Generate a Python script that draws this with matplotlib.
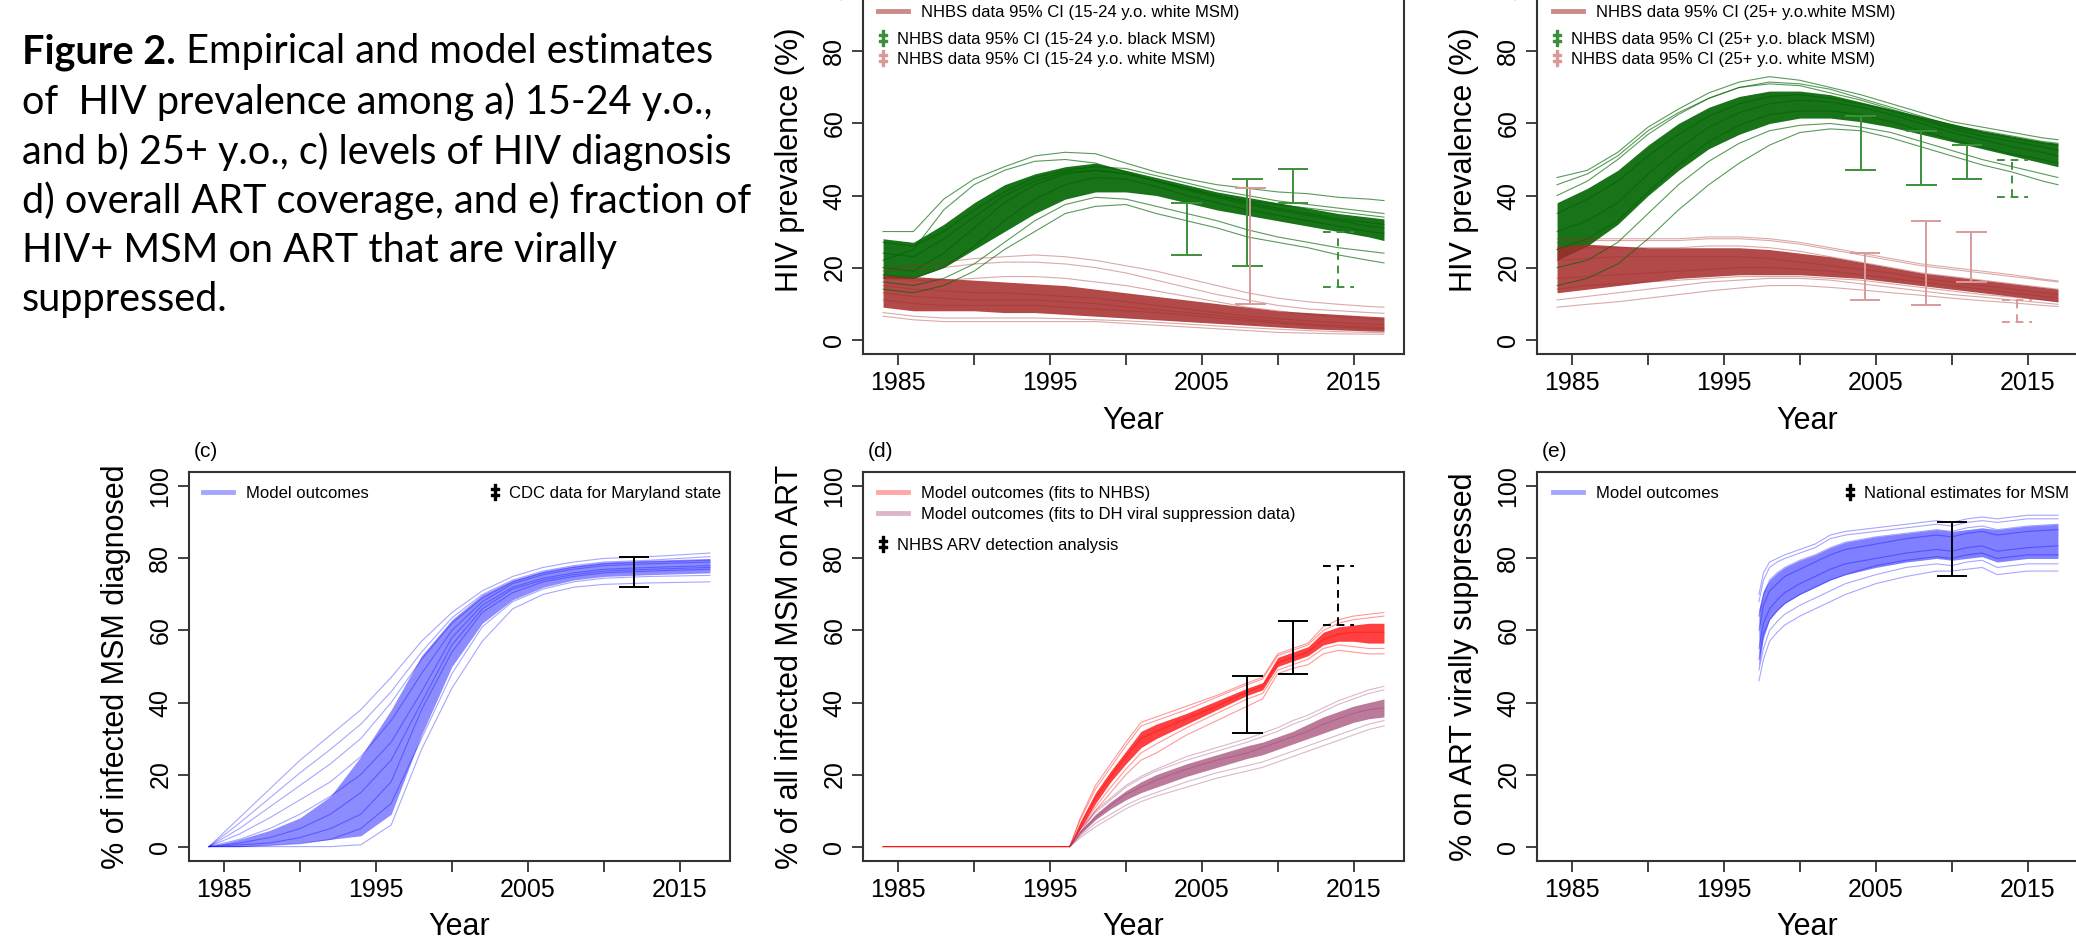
import matplotlib.pyplot as plt
from matplotlib.lines import Line2D
from matplotlib.legend import Legend

plt.rcParams['font.family'] = ['Liberation Sans', 'DejaVu Sans']

# ---------------- data ----------------
yrs_ab = [1984, 1986, 1988, 1990, 1992, 1994, 1996, 1998, 2000, 2002,
          2004, 2006, 2008, 2010, 2012, 2014, 2016, 2017]

# (a) 15-24 y.o. black MSM (green)
a_blk_hi = [30, 30, 39, 44.6, 48, 51, 52, 51.6, 49, 46.5, 44.6, 43, 42, 41, 40.5, 39.5, 39, 38.6]
a_blk_lo = [14, 13, 15, 19, 25, 30, 35, 37, 37.5, 35, 33, 31, 28.5, 27, 25.5, 23.5, 22, 21.3]
a_blk_core_lo = [17, 17, 20, 25, 30, 35, 39, 41, 41, 40, 38, 36, 34.5, 33, 31.5, 30, 28.5, 27.5]
a_blk_core_hi = [28, 27, 32, 38, 43, 46, 48, 49, 47, 45, 43, 41, 39.5, 38, 36.5, 35, 34, 33.5]
a_blk_runs = [
    [22, 25, 36, 43, 47, 49.5, 50, 49, 46.5, 44, 42, 40, 38.5, 37.5, 36.5, 35.5, 34.5, 34],
    [20, 19, 24, 31, 38, 43, 46, 47, 46, 44, 41.5, 39.5, 37.5, 36, 34.5, 33, 31.5, 31],
    [16, 15, 17, 21, 27, 33, 37.5, 39.5, 39, 37, 35, 33, 30.5, 28.5, 27, 25.5, 24.5, 24],
    [27, 26, 30, 36, 41, 45, 47, 48, 47.5, 45.5, 43.5, 41.5, 40, 38.5, 37.5, 36.5, 35.5, 35],
    [24, 23, 28, 34, 40, 44, 46.5, 47, 46, 44, 42, 40, 38, 36.5, 35, 33.5, 32.5, 32],
    [18, 17, 20, 26, 33, 39, 43, 45, 44.5, 42.5, 40, 38, 36, 34.5, 33, 31.5, 30, 29.5],
]
# (a) 15-24 y.o. white MSM (brown)
a_wht_hi = [20, 20.5, 21.5, 22.5, 23, 23.5, 23, 22, 20.5, 19, 17, 15, 13, 11.5, 10.5, 9.8, 9.2, 9]
a_wht_lo = [6.5, 5.5, 5, 5, 5, 5, 5, 5, 4.5, 4, 3.5, 3, 2.5, 2, 1.8, 1.6, 1.5, 1.5]
a_wht_core_lo = [9, 8, 8, 8, 7.5, 7.5, 7, 6.5, 6, 5.5, 5, 4.5, 4, 3.5, 3, 2.7, 2.4, 2.3]
a_wht_core_hi = [18, 17.5, 17, 16.5, 16, 15.5, 15, 14, 13, 12, 11, 10, 9, 8, 7.5, 7, 6.5, 6.3]
a_wht_runs = [
    [19, 19.5, 20, 21, 21.5, 21.5, 21, 20, 18.5, 16.5, 14.5, 12.5, 11, 9.5, 8.5, 8, 7.5, 7.3],
    [15, 14, 13.5, 13, 13, 12.5, 12, 11.5, 10.5, 9.5, 8.5, 7.5, 6.5, 5.8, 5.2, 4.7, 4.3, 4.1],
    [11, 10, 9.5, 9.5, 9.5, 9.5, 9, 8.5, 8, 7.5, 6.8, 6, 5.3, 4.6, 4, 3.5, 3.1, 3],
    [7.5, 6.5, 6, 6, 6, 6, 5.8, 5.5, 5.2, 4.8, 4.3, 3.8, 3.3, 2.9, 2.5, 2.2, 2, 1.9],
    [17, 16.5, 16.5, 17, 17.5, 17.5, 17, 16, 15, 13.5, 12, 10.5, 9, 8, 7, 6.3, 5.8, 5.5],
    [13, 12, 11.5, 11, 11, 11, 10.5, 10, 9, 8.3, 7.5, 6.7, 5.8, 5, 4.4, 3.9, 3.5, 3.3],
]
a_blk_bar_x = [2004, 2008, 2011]
a_blk_bar_lo = [23.5, 20.5, 38]
a_blk_bar_hi = [38, 44.5, 47.5]
a_blk_dash_x, a_blk_dash_lo, a_blk_dash_hi = [2014], [14.5], [30]
a_wht_bar_x, a_wht_bar_lo, a_wht_bar_hi = [2008.2], [10], [42]

# (b) 25+ y.o. black MSM (green)
b_blk_hi = [45, 47, 52, 59, 64, 68.5, 71.5, 73, 72, 70, 68, 65.5, 63, 60.5, 59, 57.5, 56, 55.5]
b_blk_lo = [15, 17, 21, 28, 36, 43, 49, 54, 57.5, 58.5, 58, 56, 53.5, 51, 48.5, 46.5, 44, 43]
b_blk_core_lo = [22, 26, 32, 40, 47, 53, 57, 60, 61.5, 61.5, 60.5, 59, 57, 55, 53, 51, 49, 48]
b_blk_core_hi = [38, 42, 47, 54, 60, 64.5, 67.5, 69, 69, 68, 66, 64, 62, 60, 58, 56.5, 55, 54.5]
b_blk_runs = [
    [40, 44, 50, 57, 62.5, 67, 70, 71.5, 71, 69.5, 67, 64.5, 62, 59.5, 58, 56.5, 55, 54.5],
    [30, 33, 38, 46, 53, 59, 63, 65.5, 66.5, 66, 64.5, 62.5, 60, 57.5, 55.5, 53.5, 52, 51],
    [20, 22, 27, 35, 43, 49.5, 54.5, 58, 59.5, 60, 59, 57.5, 55, 52.5, 50, 48, 46, 45],
    [35, 39, 44, 51, 57, 62, 65.5, 67.5, 68, 67, 65.5, 63.5, 61, 58.5, 56.5, 55, 53.5, 52.5],
    [25, 28, 33, 41, 48.5, 55, 59.5, 62.5, 63.5, 63.5, 62.5, 60.5, 58, 55.5, 53.5, 51.5, 50, 49],
    [43, 46, 51, 58, 63, 67, 70, 71, 70.5, 68.5, 66.5, 64, 61.5, 59, 57.5, 56, 54.5, 54],
]
# (b) 25+ y.o. white MSM (brown)
b_wht_hi = [28, 28, 28, 28, 28, 28.5, 28.5, 28, 27, 25.5, 24, 22.5, 21, 20, 19, 18, 16.8, 16.3]
b_wht_lo = [9, 9.8, 10.5, 11.5, 12.5, 13.5, 14.3, 15, 15, 14.5, 13.8, 13, 12.3, 11.5, 10.8, 10.2, 9.5, 9.2]
b_wht_core_lo = [13, 14, 15, 16, 17, 17.5, 18, 18, 18, 17.5, 17, 16, 15, 14, 13, 12, 11, 10.5]
b_wht_core_hi = [26, 26.5, 26, 25.5, 25.5, 25.5, 25.5, 25, 24, 23, 21.5, 20, 18.5, 17.5, 16.5, 15.5, 14.5, 14]
b_wht_runs = [
    [27, 27.5, 27.5, 27.5, 27.5, 28, 28, 27.5, 26.5, 25, 23.5, 22, 20.5, 19.5, 18.5, 17.5, 16.5, 16],
    [22, 22.5, 23, 23, 23, 23, 23, 22.5, 21.5, 20.5, 19.5, 18.5, 17, 16, 15, 14, 13, 12.5],
    [17, 17.5, 18, 18.5, 19, 19.5, 20, 20, 19.5, 19, 18, 17, 16, 15, 14, 13, 12, 11.5],
    [11, 12, 13, 14, 15, 16, 16.5, 17, 17, 16.5, 15.5, 14.5, 13.5, 12.5, 11.8, 11, 10.2, 9.8],
    [25, 25.5, 25.5, 25.5, 25.5, 26, 26, 25.5, 24.5, 23, 21.5, 20, 18.5, 17.5, 16.5, 15.5, 14.5, 14],
    [14, 15, 15.5, 16, 16.5, 17, 17.5, 17.5, 17.5, 17, 16.5, 15.5, 14.5, 13.5, 12.5, 11.8, 11, 10.5],
]
b_blk_bar_x = [2004, 2008, 2011]
b_blk_bar_lo = [47, 43, 44.5]
b_blk_bar_hi = [62, 58, 54]
b_blk_dash_x, b_blk_dash_lo, b_blk_dash_hi = [2014], [39.5], [50]
b_wht_bar_x = [2004.3, 2008.3, 2011.3]
b_wht_bar_lo = [11, 9.5, 16]
b_wht_bar_hi = [24, 33, 30]
b_wht_dash_x, b_wht_dash_lo, b_wht_dash_hi = [2014.3], [5], [11]

# (c) % diagnosed
yrs_c = [1984, 1986, 1988, 1990, 1992, 1994, 1996, 1998, 2000, 2002, 2004, 2006, 2008, 2010, 2013, 2017]
c_hi = [0, 8, 16, 24, 31, 38, 47, 57, 65, 71, 75, 77.5, 79, 80, 80.5, 81.5]
c_lo = [0, 0, 0, 0, 0, 0.5, 6, 27, 44, 57, 66, 70, 72, 72.8, 73.2, 73.5]
c_core_lo = [0, 0, 0.5, 1, 2, 3, 9, 31, 50, 62, 68.5, 72, 74, 75, 75.5, 76]
c_core_hi = [0, 2, 4.5, 8, 14, 25, 38, 53, 63, 70, 74, 76.5, 78, 79, 79.5, 80]
c_runs = [
    [0, 5, 11, 17, 23, 30, 40, 52, 62, 69, 73.5, 76, 77.5, 78.5, 79, 79.5],
    [0, 2, 5, 9, 14, 20, 29, 43, 58, 67, 72, 74.5, 76, 77, 77.5, 78],
    [0, 0.5, 1, 2.5, 5, 9, 18, 38, 54, 65, 70.5, 73.5, 75, 76, 76.5, 77],
    [0, 0, 0.3, 0.8, 2, 5, 12, 30, 48, 61, 68, 71.5, 73.5, 74.5, 75, 75.3],
    [0, 3.5, 8, 13, 18, 25, 35, 48, 60, 68, 73, 75.5, 77, 78, 78.5, 79],
    [0, 1, 2.5, 5, 9, 15, 24, 40, 56, 66, 71.5, 74, 75.5, 76.5, 77, 77.5],
    [0, 6.5, 13.5, 20.5, 27, 34, 43, 54, 63.5, 70, 74, 76.5, 78, 79, 79.5, 80.5],
]
c_bar_x, c_bar_lo, c_bar_hi = [2012], [72], [80.5]

# (d) % on ART
yrs_d = [1984, 1996.3, 1997, 1998, 1999, 2000, 2001, 2002, 2004, 2006,
         2008, 2009, 2010, 2011, 2012, 2013, 2014, 2015, 2016, 2017]
d_red_hi = [0, 0, 8, 17, 23, 29, 34.5, 36, 39, 42, 45.5, 47, 53.5, 55, 56.5, 61, 63, 64, 64.5, 65]
d_red_lo = [0, 0, 4, 10, 15, 20, 24, 26, 31, 35, 39, 41, 48, 49.5, 50.5, 53.5, 54.5, 54, 53.5, 53.5]
d_red_core_lo = [0, 0, 5, 12, 18, 23, 27.5, 30, 34, 38, 42, 43.5, 50, 51.5, 53, 56, 57, 57, 56.5, 56.5]
d_red_core_hi = [0, 0, 7, 15, 21, 26.5, 32, 34, 37, 40.5, 44, 45.5, 52.5, 54, 55.5, 59.5, 61, 61.5, 62, 62]
d_red_runs = [
    [0, 0, 7.5, 16, 22, 28, 33.5, 35, 38, 41.5, 45, 46.5, 53, 54.5, 56, 60, 62, 63, 63.5, 64],
    [0, 0, 6, 13.5, 19.5, 25, 30, 32, 35.5, 39, 43, 44.5, 51, 52.5, 54, 57.5, 59, 59.5, 59.5, 59.5],
    [0, 0, 5, 11, 16.5, 21.5, 26, 28.5, 33, 37, 41, 42.5, 49, 50.5, 52, 55, 56, 55.5, 55, 55],
]
yrs_d2 = yrs_d[1:]
d_pur_hi = [0, 5, 10, 13.5, 17, 19.5, 21.5, 25, 27.5, 30, 31.5, 33, 35, 36.5, 38.5, 40.5, 42, 43.5, 44.5]
d_pur_lo = [0, 2.5, 5.5, 8, 10.5, 12.5, 14, 16.5, 19, 21, 22, 23.5, 25, 26.5, 28, 29.5, 31, 32.5, 33.5]
d_pur_core_lo = [0, 3.5, 7.5, 10.5, 13, 15, 16.5, 19.5, 22, 24.5, 25.5, 27, 28.5, 30, 31.5, 33, 34.5, 35.5, 36]
d_pur_core_hi = [0, 4.5, 9, 12.5, 15.5, 18, 20, 23, 25.5, 28, 29, 30.5, 32, 34, 36, 37.5, 39, 40, 41]
d_pur_runs = [
    [0, 4.8, 9.5, 13, 16.5, 19, 21, 24, 26.5, 29, 30.5, 32, 34, 35.5, 37.5, 39.5, 41, 42.5, 43.5],
    [0, 4, 8, 11.5, 14.5, 16.5, 18.5, 21.5, 24, 26, 27.5, 29, 30.5, 32, 34, 35.5, 37, 38, 38.5],
    [0, 3, 6.5, 9, 11.5, 13.5, 15, 18, 20.5, 22.5, 23.5, 25, 26.5, 28, 29.5, 31, 32.5, 34, 35],
]
d_bar_x, d_bar_lo, d_bar_hi = [2008, 2011], [31.5, 48], [47.5, 62.5]
d_dash_x, d_dash_lo, d_dash_hi = [2014], [61.5], [78]

# (e) % virally suppressed
yrs_e = [1997.3, 1997.6, 1998, 1998.5, 1999, 2000, 2001, 2002, 2003, 2005,
         2007, 2009, 2010, 2011, 2012, 2013, 2014, 2015, 2017]
e_hi = [70, 76, 79, 80, 81, 82.5, 84, 86.5, 87.5, 88.5, 89.5, 90.5, 90, 91, 91.5, 91, 91.5, 92, 92]
e_lo = [46, 52, 57, 59.5, 61.5, 64, 66, 68, 70, 73, 75, 76.5, 76.5, 77, 77.5, 75.5, 76, 76.5, 76.5]
e_core_lo = [50, 58, 63, 65.5, 67.5, 70, 72, 74, 75.5, 77.5, 79, 80, 79.5, 80, 80.5, 79, 79.5, 80, 80]
e_core_hi = [66, 71, 74, 76, 77.5, 79.5, 81, 83, 84.5, 86, 87, 88, 87.5, 88, 88.5, 88, 88.5, 89, 89.5]
e_runs = [
    [68, 74, 77.5, 79, 80, 81.5, 83, 85.5, 86.5, 87.5, 88.5, 89.5, 89, 90, 90.5, 90, 90.5, 91, 91],
    [60, 67, 71, 73, 75, 77, 79, 81, 82.5, 84, 85.5, 86.5, 86, 87, 87.5, 86.5, 87, 87.5, 88],
    [55, 62, 66, 68.5, 70.5, 73, 75, 77, 78.5, 80, 81.5, 82.5, 82, 83, 83.5, 82, 82.5, 83, 83.5],
    [49, 55, 60, 62.5, 64.5, 67, 69, 71, 73, 75.5, 77.5, 78.5, 78, 79, 79.5, 77.5, 78, 78.5, 78.5],
    [64, 70, 74, 76, 77.5, 79.5, 81, 83, 84.5, 86, 87, 88, 87.5, 88.5, 89, 88, 88.5, 89, 89.5],
    [52, 59, 63, 65.5, 67.5, 70, 72, 74, 75.5, 78, 79.5, 80.5, 80, 81, 81.5, 80, 80.5, 81, 81],
]
e_bar_x, e_bar_lo, e_bar_hi = [2010], [75], [90]

caption = ['of  HIV prevalence among a) 15-24 y.o.,',
           'and b) 25+ y.o., c) levels of HIV diagnosis',
           'd) overall ART coverage, and e) fraction of',
           'HIV+ MSM on ART that are virally',
           'suppressed.']

GREEN = '#006400'
BROWN = '#a52a2a'
BLUE = '#0000ff'
RED = '#ff0000'
PURPLE = '#993366'
BAR_GREEN = '#3c8f3c'
BAR_PINK = '#d99a9a'

# ---------------- layout ----------------
W, H = 2076, 949
fig = plt.figure(figsize=(W / 100, H / 100), dpi=100)


def px_axes(left, top, w=541, h=389):
    return fig.add_axes([left / W, 1 - (top + h) / H, w / W, h / H])


ax_a = px_axes(863, -35)
ax_b = px_axes(1537, -35)
ax_c = px_axes(189, 472)
ax_d = px_axes(863, 472)
ax_e = px_axes(1537, 472)


def band(ax, x, lo, hi, core_lo, core_hi, runs, color, la, fa):
    ax.fill_between(x, core_lo, core_hi, color=color, alpha=fa, lw=0)
    for r in [lo, hi] + runs:
        ax.plot(x, r, color=color, alpha=la, lw=0.8)


def bars(ax, xs, lo, hi, color, ls='-'):
    ax.vlines(xs, lo, hi, colors=color, linestyles=ls, lw=1.4)
    for x, l, h in zip(xs, lo, hi):
        ax.hlines([l, h], x - 1, x + 1, colors=color, linestyles=ls, lw=1.4)


def key(ax, handle, label, x, y, loc='center left', hl=1.8, tp=0.8):
    leg = Legend(ax, [handle], [label], loc=loc, bbox_to_anchor=(x, y),
                 bbox_transform=ax.transAxes, frameon=False, fontsize=12,
                 handlelength=hl, handletextpad=tp, borderpad=0, borderaxespad=0)
    ax.add_artist(leg)


def line_h(c, a):
    return Line2D([], [], color=c, alpha=a, lw=3.5)


def dag_h(c):
    return Line2D([], [], ls='none', marker=r'$\ddagger$', color=c, ms=11)


def style(ax):
    ax.set_xlim(1982.68, 2018.32)
    ax.set_ylim(-4, 104)
    ax.set_xticks(range(1985, 2016, 5))
    ax.set_xticklabels(['1985', '', '1995', '', '2005', '', '2015'])
    ax.set_yticks(range(0, 101, 20))
    ax.tick_params(direction='out', length=8, width=1.3, color='#333333',
                   labelsize=18, pad=4)
    ax.tick_params(axis='y', labelrotation=90, pad=4)
    for lb in ax.get_yticklabels():
        lb.set_va('center')
    for s in ax.spines.values():
        s.set_linewidth(1.5)
        s.set_color('#333333')


dash = (0, (4, 3))

# (a)
band(ax_a, yrs_ab, a_blk_lo, a_blk_hi, a_blk_core_lo, a_blk_core_hi, a_blk_runs, GREEN, 0.65, 0.9)
band(ax_a, yrs_ab, a_wht_lo, a_wht_hi, a_wht_core_lo, a_wht_core_hi, a_wht_runs, BROWN, 0.4, 0.85)
bars(ax_a, a_blk_bar_x, a_blk_bar_lo, a_blk_bar_hi, BAR_GREEN)
bars(ax_a, a_blk_dash_x, a_blk_dash_lo, a_blk_dash_hi, BAR_GREEN, dash)
bars(ax_a, a_wht_bar_x, a_wht_bar_lo, a_wht_bar_hi, BAR_PINK)
key(ax_a, line_h(BROWN, 0.55), 'NHBS data 95% CI (15-24 y.o. white MSM)', 0.028, 0.878)
key(ax_a, dag_h(BAR_GREEN), 'NHBS data 95% CI (15-24 y.o. black MSM)', 0.024, 0.809, hl=0.8, tp=0.44)
key(ax_a, dag_h(BAR_PINK), 'NHBS data 95% CI (15-24 y.o. white MSM)', 0.024, 0.757, hl=0.8, tp=0.44)

# (b)
band(ax_b, yrs_ab, b_blk_lo, b_blk_hi, b_blk_core_lo, b_blk_core_hi, b_blk_runs, GREEN, 0.65, 0.9)
band(ax_b, yrs_ab, b_wht_lo, b_wht_hi, b_wht_core_lo, b_wht_core_hi, b_wht_runs, BROWN, 0.4, 0.85)
bars(ax_b, b_blk_bar_x, b_blk_bar_lo, b_blk_bar_hi, BAR_GREEN)
bars(ax_b, b_blk_dash_x, b_blk_dash_lo, b_blk_dash_hi, BAR_GREEN, dash)
bars(ax_b, b_wht_bar_x, b_wht_bar_lo, b_wht_bar_hi, BAR_PINK)
bars(ax_b, b_wht_dash_x, b_wht_dash_lo, b_wht_dash_hi, BAR_PINK, dash)
key(ax_b, line_h(BROWN, 0.55), 'NHBS data 95% CI (25+ y.o.white MSM)', 0.029, 0.878)
key(ax_b, dag_h(BAR_GREEN), 'NHBS data 95% CI (25+ y.o. black MSM)', 0.025, 0.809, hl=0.8, tp=0.44)
key(ax_b, dag_h(BAR_PINK), 'NHBS data 95% CI (25+ y.o. white MSM)', 0.025, 0.757, hl=0.8, tp=0.44)

# (c)
band(ax_c, yrs_c, c_lo, c_hi, c_core_lo, c_core_hi, c_runs, BLUE, 0.35, 0.45)
bars(ax_c, c_bar_x, c_bar_lo, c_bar_hi, 'black')
key(ax_c, line_h(BLUE, 0.35), 'Model outcomes', 0.026, 0.946)
key(ax_c, dag_h('black'), 'CDC data for Maryland state', 0.983, 0.946, loc='center right', hl=0.8, tp=0.44)

# (d)
band(ax_d, yrs_d, d_red_lo, d_red_hi, d_red_core_lo, d_red_core_hi, d_red_runs, RED, 0.4, 0.75)
band(ax_d, yrs_d2, d_pur_lo, d_pur_hi, d_pur_core_lo, d_pur_core_hi, d_pur_runs, PURPLE, 0.35, 0.65)
bars(ax_d, d_bar_x, d_bar_lo, d_bar_hi, 'black')
bars(ax_d, d_dash_x, d_dash_lo, d_dash_hi, 'black', dash)
key(ax_d, line_h(RED, 0.35), 'Model outcomes (fits to NHBS)', 0.028, 0.945)
key(ax_d, line_h(PURPLE, 0.35), 'Model outcomes (fits to DH viral suppression data)', 0.028, 0.890)
key(ax_d, dag_h('black'), 'NHBS ARV detection analysis', 0.024, 0.812, hl=0.8, tp=0.44)

# (e)
band(ax_e, yrs_e, e_lo, e_hi, e_core_lo, e_core_hi, e_runs, BLUE, 0.35, 0.5)
bars(ax_e, e_bar_x, e_bar_lo, e_bar_hi, 'black')
key(ax_e, line_h(BLUE, 0.35), 'Model outcomes', 0.029, 0.946)
key(ax_e, dag_h('black'), 'National estimates for MSM', 0.984, 0.946, loc='center right', hl=0.8, tp=0.44)

for ax, lab in [(ax_a, None), (ax_b, None), (ax_c, '(c)'), (ax_d, '(d)'), (ax_e, '(e)')]:
    style(ax)
    if lab:
        ax.text(0.008, 1.052, lab, transform=ax.transAxes, fontsize=15, ha='left', va='center')

# axis titles
ylabs = [(790, 159.5, 'HIV prevalence (%)'), (1464, 159.5, 'HIV prevalence (%)'),
         (116, 666.5, '% of infected MSM diagnosed'),
         (790, 666.5, '% of all infected MSM on ART'),
         (1464, 666.5, '% on ART virally suppressed')]
for x, y, t in ylabs:
    fig.text(x / W, 1 - y / H, t, rotation=90, ha='center', va='center', fontsize=22)
for x, y in [(1133.5, 429), (1807.5, 429), (459.5, 935), (1133.5, 935), (1807.5, 935)]:
    fig.text(x / W, 1 - y / H, 'Year', ha='center', va='baseline', fontsize=22)

# caption
t0 = fig.text(22 / W, 1 - 52 / H, 'Figure 2.', family='Lato', weight='bold', fontsize=28.5, va='center')
fig.add_artist(plt.Annotation(' Empirical and model estimates', xy=(1, 0.5), xycoords=t0,
                              va='center', ha='left', family='Lato', fontsize=28.5))
for i, line in enumerate(caption):
    fig.text(22 / W, 1 - (52 + 49.6 * (i + 1)) / H, line, family='Lato', fontsize=28.5, va='center')

fig.savefig('out.png', dpi=100, facecolor='white')
